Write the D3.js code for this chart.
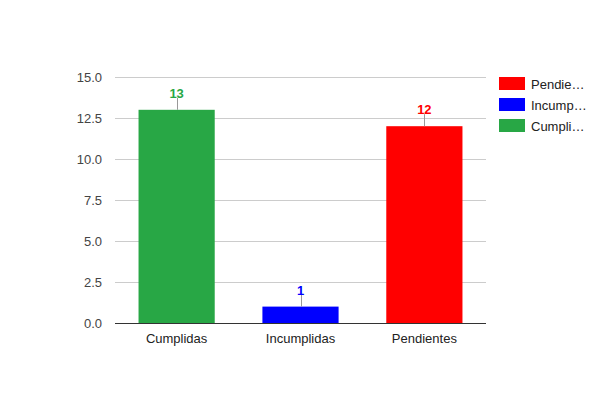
<!DOCTYPE html>
<html>
<head>
<meta charset="utf-8">
<script src="https://cdn.jsdelivr.net/npm/d3@7"></script>
<style>
  body { margin: 0; background: #fff; }
  text { font-family: "Liberation Sans", Arial, sans-serif; }
</style>
</head>
<body>
<svg id="chart" width="600" height="400"></svg>
<script>
const categories = ['Cumplidas', 'Incumplidas', 'Pendientes'];
const values = [13, 1, 12];
const colors = ['#28a745', '#0000ff', '#ff0000'];
const yTicks = [0, 2.5, 5, 7.5, 10, 12.5, 15];
const legendNames = ['Pendie…', 'Incump…', 'Cumpli…'];
const legendColors = ['#ff0000', '#0000ff', '#28a745'];

let svg = d3.select('#chart'),
    margin = {top: 77, right: 114, bottom: 77, left: 115},
    width = 600 - margin.left - margin.right,
    height = 400 - margin.top - margin.bottom;

let x = d3.scaleBand().domain(categories).range([0, width]).paddingInner(0.385).paddingOuter(0.19),
    y = d3.scaleLinear().domain([0, 15]).range([height, 0]);

let g = svg.append('g')
    .attr('transform', 'translate(' + margin.left + ',' + margin.top + ')');

// grid lines
g.selectAll('.grid')
    .data(yTicks)
    .enter()
    .append('line')
    .attr('x1', 0).attr('x2', width)
    .attr('y1', d => Math.round(y(d)) + 0.5).attr('y2', d => Math.round(y(d)) + 0.5)
    .attr('stroke', d => d === 0 ? '#333' : '#ccc')
    .attr('stroke-width', 1);

// y labels
g.selectAll('.ylab')
    .data(yTicks)
    .enter()
    .append('text')
    .attr('x', -13)
    .attr('y', d => y(d))
    .attr('dy', '0.35em')
    .attr('text-anchor', 'end')
    .attr('font-size', 13)
    .attr('fill', '#444')
    .text(d => d.toFixed(1));

// bars
g.selectAll('.bar')
    .data(categories)
    .enter()
    .append('rect')
    .attr('x', d => x(d))
    .attr('width', x.bandwidth())
    .attr('y', (d, i) => y(values[i]))
    .attr('height', (d, i) => y(0) - y(values[i]))
    .attr('fill', (d, i) => colors[i]);

// redraw baseline above bars
g.append('line')
    .attr('x1', 0).attr('x2', width)
    .attr('y1', Math.round(y(0)) + 0.5).attr('y2', Math.round(y(0)) + 0.5)
    .attr('stroke', '#333');

// value annotations
g.selectAll('.stem')
    .data(categories)
    .enter()
    .append('line')
    .attr('x1', d => Math.round(x(d) + x.bandwidth() / 2) + 0.5)
    .attr('x2', d => Math.round(x(d) + x.bandwidth() / 2) + 0.5)
    .attr('y1', (d, i) => y(values[i]) - 12)
    .attr('y2', (d, i) => y(values[i]))
    .attr('stroke', '#999');

g.selectAll('.val')
    .data(categories)
    .enter()
    .append('text')
    .attr('x', d => x(d) + x.bandwidth() / 2)
    .attr('y', (d, i) => y(values[i]) - 12)
    .attr('text-anchor', 'middle')
    .attr('font-size', 13)
    .attr('font-weight', 'bold')
    .attr('fill', (d, i) => colors[i])
    .text((d, i) => values[i]);

// x labels
g.selectAll('.xlab')
    .data(categories)
    .enter()
    .append('text')
    .attr('x', d => x(d) + x.bandwidth() / 2)
    .attr('y', height + 20)
    .attr('text-anchor', 'middle')
    .attr('font-size', 13)
    .attr('fill', '#222')
    .text(d => d);

// legend
let legend = svg.append('g').attr('transform', 'translate(499,77)');
let item = legend.selectAll('.item')
    .data(legendNames)
    .enter()
    .append('g')
    .attr('transform', (d, i) => 'translate(0,' + i * 21 + ')');
item.append('rect')
    .attr('width', 26).attr('height', 13)
    .attr('fill', (d, i) => legendColors[i]);
item.append('text')
    .attr('x', 32).attr('y', 7)
    .attr('dy', '0.35em')
    .attr('font-size', 13)
    .attr('fill', '#222')
    .text(d => d);
</script>
</body>
</html>
